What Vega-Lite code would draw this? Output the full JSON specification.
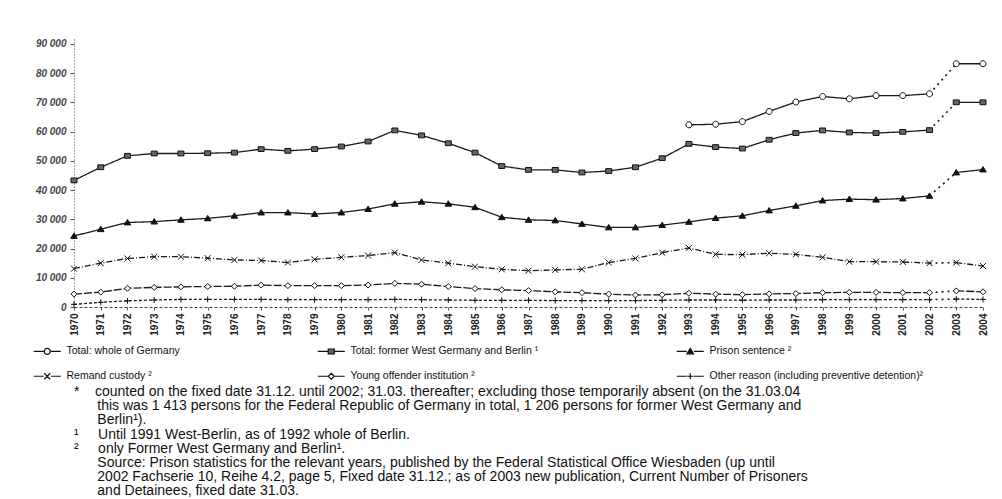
{
  "$schema": "https://vega.github.io/schema/vega-lite/v6.json",
  "autosize": {"type": "none"},
  "padding": {"left": 74, "top": 38, "right": 19, "bottom": 192},
  "width": 909,
  "height": 269,
  "background": "white",
  "config": {"view": {"stroke": null}, "font": "Liberation Sans"},
  "title": {
    "text": [
      "*\u00a0\u00a0\u00a0\u00a0counted on the fixed date 31.12. until 2002; 31.03. thereafter; excluding those temporarily absent (on the 31.03.04",
      "\u200b\u00a0\u00a0\u00a0\u00a0\u00a0\u00a0this was 1 413 persons for the Federal Republic of Germany in total, 1 206 persons for former West Germany and",
      "\u200b\u00a0\u00a0\u00a0\u00a0\u00a0\u00a0Berlin¹).",
      "¹\u00a0\u00a0\u00a0\u00a0\u00a0Until 1991 West-Berlin, as of 1992 whole of Berlin.",
      "²\u00a0\u00a0\u00a0\u00a0\u00a0only Former West Germany and Berlin¹.",
      "\u200b\u00a0\u00a0\u00a0\u00a0\u00a0\u00a0Source: Prison statistics for the relevant years, published by the Federal Statistical Office Wiesbaden (up until",
      "\u200b\u00a0\u00a0\u00a0\u00a0\u00a0\u00a02002 Fachserie 10, Reihe 4.2, page 5, Fixed date 31.12.; as of 2003 new publication, Current Number of Prisoners",
      "\u200b\u00a0\u00a0\u00a0\u00a0\u00a0\u00a0and Detainees, fixed date 31.03."
    ],
    "orient": "bottom",
    "anchor": "start",
    "frame": "group",
    "font": "Liberation Sans",
    "fontSize": 14,
    "fontWeight": "normal",
    "lineHeight": 14.2,
    "color": "#111",
    "offset": 3
  },
  "data": {
    "values": [
      {"series": "Total: whole of Germany", "year": 1993, "value": 62300, "date": "31.12"},
      {"series": "Total: whole of Germany", "year": 1994, "value": 62500, "date": "31.12"},
      {"series": "Total: whole of Germany", "year": 1995, "value": 63400, "date": "31.12"},
      {"series": "Total: whole of Germany", "year": 1996, "value": 66900, "date": "31.12"},
      {"series": "Total: whole of Germany", "year": 1997, "value": 70100, "date": "31.12"},
      {"series": "Total: whole of Germany", "year": 1998, "value": 72000, "date": "31.12"},
      {"series": "Total: whole of Germany", "year": 1999, "value": 71200, "date": "31.12"},
      {"series": "Total: whole of Germany", "year": 2000, "value": 72300, "date": "31.12"},
      {"series": "Total: whole of Germany", "year": 2001, "value": 72300, "date": "31.12"},
      {"series": "Total: whole of Germany", "year": 2002, "value": 72900, "date": "31.12"},
      {"series": "Total: whole of Germany", "year": 2003, "value": 83200, "date": "31.03"},
      {"series": "Total: whole of Germany", "year": 2004, "value": 83200, "date": "31.03"},

      {"series": "Total: former West Germany and Berlin ¹", "year": 1970, "value": 43300, "date": "31.12"},
      {"series": "Total: former West Germany and Berlin ¹", "year": 1971, "value": 47800, "date": "31.12"},
      {"series": "Total: former West Germany and Berlin ¹", "year": 1972, "value": 51700, "date": "31.12"},
      {"series": "Total: former West Germany and Berlin ¹", "year": 1973, "value": 52500, "date": "31.12"},
      {"series": "Total: former West Germany and Berlin ¹", "year": 1974, "value": 52500, "date": "31.12"},
      {"series": "Total: former West Germany and Berlin ¹", "year": 1975, "value": 52600, "date": "31.12"},
      {"series": "Total: former West Germany and Berlin ¹", "year": 1976, "value": 52800, "date": "31.12"},
      {"series": "Total: former West Germany and Berlin ¹", "year": 1977, "value": 54000, "date": "31.12"},
      {"series": "Total: former West Germany and Berlin ¹", "year": 1978, "value": 53400, "date": "31.12"},
      {"series": "Total: former West Germany and Berlin ¹", "year": 1979, "value": 54000, "date": "31.12"},
      {"series": "Total: former West Germany and Berlin ¹", "year": 1980, "value": 54900, "date": "31.12"},
      {"series": "Total: former West Germany and Berlin ¹", "year": 1981, "value": 56600, "date": "31.12"},
      {"series": "Total: former West Germany and Berlin ¹", "year": 1982, "value": 60400, "date": "31.12"},
      {"series": "Total: former West Germany and Berlin ¹", "year": 1983, "value": 58700, "date": "31.12"},
      {"series": "Total: former West Germany and Berlin ¹", "year": 1984, "value": 56000, "date": "31.12"},
      {"series": "Total: former West Germany and Berlin ¹", "year": 1985, "value": 52800, "date": "31.12"},
      {"series": "Total: former West Germany and Berlin ¹", "year": 1986, "value": 48200, "date": "31.12"},
      {"series": "Total: former West Germany and Berlin ¹", "year": 1987, "value": 46900, "date": "31.12"},
      {"series": "Total: former West Germany and Berlin ¹", "year": 1988, "value": 46900, "date": "31.12"},
      {"series": "Total: former West Germany and Berlin ¹", "year": 1989, "value": 46000, "date": "31.12"},
      {"series": "Total: former West Germany and Berlin ¹", "year": 1990, "value": 46500, "date": "31.12"},
      {"series": "Total: former West Germany and Berlin ¹", "year": 1991, "value": 47800, "date": "31.12"},
      {"series": "Total: former West Germany and Berlin ¹", "year": 1992, "value": 50900, "date": "31.12"},
      {"series": "Total: former West Germany and Berlin ¹", "year": 1993, "value": 55800, "date": "31.12"},
      {"series": "Total: former West Germany and Berlin ¹", "year": 1994, "value": 54700, "date": "31.12"},
      {"series": "Total: former West Germany and Berlin ¹", "year": 1995, "value": 54200, "date": "31.12"},
      {"series": "Total: former West Germany and Berlin ¹", "year": 1996, "value": 57200, "date": "31.12"},
      {"series": "Total: former West Germany and Berlin ¹", "year": 1997, "value": 59500, "date": "31.12"},
      {"series": "Total: former West Germany and Berlin ¹", "year": 1998, "value": 60400, "date": "31.12"},
      {"series": "Total: former West Germany and Berlin ¹", "year": 1999, "value": 59700, "date": "31.12"},
      {"series": "Total: former West Germany and Berlin ¹", "year": 2000, "value": 59500, "date": "31.12"},
      {"series": "Total: former West Germany and Berlin ¹", "year": 2001, "value": 59900, "date": "31.12"},
      {"series": "Total: former West Germany and Berlin ¹", "year": 2002, "value": 60500, "date": "31.12"},
      {"series": "Total: former West Germany and Berlin ¹", "year": 2003, "value": 70000, "date": "31.03"},
      {"series": "Total: former West Germany and Berlin ¹", "year": 2004, "value": 70000, "date": "31.03"},

      {"series": "Prison sentence ²", "year": 1970, "value": 24300, "date": "31.12"},
      {"series": "Prison sentence ²", "year": 1971, "value": 26600, "date": "31.12"},
      {"series": "Prison sentence ²", "year": 1972, "value": 28900, "date": "31.12"},
      {"series": "Prison sentence ²", "year": 1973, "value": 29200, "date": "31.12"},
      {"series": "Prison sentence ²", "year": 1974, "value": 29800, "date": "31.12"},
      {"series": "Prison sentence ²", "year": 1975, "value": 30300, "date": "31.12"},
      {"series": "Prison sentence ²", "year": 1976, "value": 31200, "date": "31.12"},
      {"series": "Prison sentence ²", "year": 1977, "value": 32300, "date": "31.12"},
      {"series": "Prison sentence ²", "year": 1978, "value": 32300, "date": "31.12"},
      {"series": "Prison sentence ²", "year": 1979, "value": 31800, "date": "31.12"},
      {"series": "Prison sentence ²", "year": 1980, "value": 32300, "date": "31.12"},
      {"series": "Prison sentence ²", "year": 1981, "value": 33500, "date": "31.12"},
      {"series": "Prison sentence ²", "year": 1982, "value": 35300, "date": "31.12"},
      {"series": "Prison sentence ²", "year": 1983, "value": 36000, "date": "31.12"},
      {"series": "Prison sentence ²", "year": 1984, "value": 35300, "date": "31.12"},
      {"series": "Prison sentence ²", "year": 1985, "value": 34100, "date": "31.12"},
      {"series": "Prison sentence ²", "year": 1986, "value": 30700, "date": "31.12"},
      {"series": "Prison sentence ²", "year": 1987, "value": 29800, "date": "31.12"},
      {"series": "Prison sentence ²", "year": 1988, "value": 29600, "date": "31.12"},
      {"series": "Prison sentence ²", "year": 1989, "value": 28400, "date": "31.12"},
      {"series": "Prison sentence ²", "year": 1990, "value": 27200, "date": "31.12"},
      {"series": "Prison sentence ²", "year": 1991, "value": 27200, "date": "31.12"},
      {"series": "Prison sentence ²", "year": 1992, "value": 28000, "date": "31.12"},
      {"series": "Prison sentence ²", "year": 1993, "value": 29100, "date": "31.12"},
      {"series": "Prison sentence ²", "year": 1994, "value": 30400, "date": "31.12"},
      {"series": "Prison sentence ²", "year": 1995, "value": 31200, "date": "31.12"},
      {"series": "Prison sentence ²", "year": 1996, "value": 33000, "date": "31.12"},
      {"series": "Prison sentence ²", "year": 1997, "value": 34600, "date": "31.12"},
      {"series": "Prison sentence ²", "year": 1998, "value": 36400, "date": "31.12"},
      {"series": "Prison sentence ²", "year": 1999, "value": 36900, "date": "31.12"},
      {"series": "Prison sentence ²", "year": 2000, "value": 36700, "date": "31.12"},
      {"series": "Prison sentence ²", "year": 2001, "value": 37100, "date": "31.12"},
      {"series": "Prison sentence ²", "year": 2002, "value": 38000, "date": "31.12"},
      {"series": "Prison sentence ²", "year": 2003, "value": 46000, "date": "31.03"},
      {"series": "Prison sentence ²", "year": 2004, "value": 47000, "date": "31.03"},

      {"series": "Remand custody ²", "year": 1970, "value": 13100, "date": "31.12"},
      {"series": "Remand custody ²", "year": 1971, "value": 15000, "date": "31.12"},
      {"series": "Remand custody ²", "year": 1972, "value": 16600, "date": "31.12"},
      {"series": "Remand custody ²", "year": 1973, "value": 17200, "date": "31.12"},
      {"series": "Remand custody ²", "year": 1974, "value": 17200, "date": "31.12"},
      {"series": "Remand custody ²", "year": 1975, "value": 16700, "date": "31.12"},
      {"series": "Remand custody ²", "year": 1976, "value": 16100, "date": "31.12"},
      {"series": "Remand custody ²", "year": 1977, "value": 15900, "date": "31.12"},
      {"series": "Remand custody ²", "year": 1978, "value": 15200, "date": "31.12"},
      {"series": "Remand custody ²", "year": 1979, "value": 16300, "date": "31.12"},
      {"series": "Remand custody ²", "year": 1980, "value": 17000, "date": "31.12"},
      {"series": "Remand custody ²", "year": 1981, "value": 17600, "date": "31.12"},
      {"series": "Remand custody ²", "year": 1982, "value": 18600, "date": "31.12"},
      {"series": "Remand custody ²", "year": 1983, "value": 16100, "date": "31.12"},
      {"series": "Remand custody ²", "year": 1984, "value": 15000, "date": "31.12"},
      {"series": "Remand custody ²", "year": 1985, "value": 13800, "date": "31.12"},
      {"series": "Remand custody ²", "year": 1986, "value": 12900, "date": "31.12"},
      {"series": "Remand custody ²", "year": 1987, "value": 12400, "date": "31.12"},
      {"series": "Remand custody ²", "year": 1988, "value": 12700, "date": "31.12"},
      {"series": "Remand custody ²", "year": 1989, "value": 12900, "date": "31.12"},
      {"series": "Remand custody ²", "year": 1990, "value": 15200, "date": "31.12"},
      {"series": "Remand custody ²", "year": 1991, "value": 16600, "date": "31.12"},
      {"series": "Remand custody ²", "year": 1992, "value": 18600, "date": "31.12"},
      {"series": "Remand custody ²", "year": 1993, "value": 20200, "date": "31.12"},
      {"series": "Remand custody ²", "year": 1994, "value": 18000, "date": "31.12"},
      {"series": "Remand custody ²", "year": 1995, "value": 17900, "date": "31.12"},
      {"series": "Remand custody ²", "year": 1996, "value": 18400, "date": "31.12"},
      {"series": "Remand custody ²", "year": 1997, "value": 18000, "date": "31.12"},
      {"series": "Remand custody ²", "year": 1998, "value": 17000, "date": "31.12"},
      {"series": "Remand custody ²", "year": 1999, "value": 15500, "date": "31.12"},
      {"series": "Remand custody ²", "year": 2000, "value": 15500, "date": "31.12"},
      {"series": "Remand custody ²", "year": 2001, "value": 15400, "date": "31.12"},
      {"series": "Remand custody ²", "year": 2002, "value": 15000, "date": "31.12"},
      {"series": "Remand custody ²", "year": 2003, "value": 15200, "date": "31.03"},
      {"series": "Remand custody ²", "year": 2004, "value": 14000, "date": "31.03"},

      {"series": "Young offender institution ²", "year": 1970, "value": 4400, "date": "31.12"},
      {"series": "Young offender institution ²", "year": 1971, "value": 5100, "date": "31.12"},
      {"series": "Young offender institution ²", "year": 1972, "value": 6400, "date": "31.12"},
      {"series": "Young offender institution ²", "year": 1973, "value": 6700, "date": "31.12"},
      {"series": "Young offender institution ²", "year": 1974, "value": 6900, "date": "31.12"},
      {"series": "Young offender institution ²", "year": 1975, "value": 7000, "date": "31.12"},
      {"series": "Young offender institution ²", "year": 1976, "value": 7100, "date": "31.12"},
      {"series": "Young offender institution ²", "year": 1977, "value": 7500, "date": "31.12"},
      {"series": "Young offender institution ²", "year": 1978, "value": 7300, "date": "31.12"},
      {"series": "Young offender institution ²", "year": 1979, "value": 7300, "date": "31.12"},
      {"series": "Young offender institution ²", "year": 1980, "value": 7300, "date": "31.12"},
      {"series": "Young offender institution ²", "year": 1981, "value": 7500, "date": "31.12"},
      {"series": "Young offender institution ²", "year": 1982, "value": 8100, "date": "31.12"},
      {"series": "Young offender institution ²", "year": 1983, "value": 7800, "date": "31.12"},
      {"series": "Young offender institution ²", "year": 1984, "value": 7000, "date": "31.12"},
      {"series": "Young offender institution ²", "year": 1985, "value": 6300, "date": "31.12"},
      {"series": "Young offender institution ²", "year": 1986, "value": 5900, "date": "31.12"},
      {"series": "Young offender institution ²", "year": 1987, "value": 5600, "date": "31.12"},
      {"series": "Young offender institution ²", "year": 1988, "value": 5200, "date": "31.12"},
      {"series": "Young offender institution ²", "year": 1989, "value": 4900, "date": "31.12"},
      {"series": "Young offender institution ²", "year": 1990, "value": 4400, "date": "31.12"},
      {"series": "Young offender institution ²", "year": 1991, "value": 4100, "date": "31.12"},
      {"series": "Young offender institution ²", "year": 1992, "value": 4200, "date": "31.12"},
      {"series": "Young offender institution ²", "year": 1993, "value": 4700, "date": "31.12"},
      {"series": "Young offender institution ²", "year": 1994, "value": 4400, "date": "31.12"},
      {"series": "Young offender institution ²", "year": 1995, "value": 4200, "date": "31.12"},
      {"series": "Young offender institution ²", "year": 1996, "value": 4500, "date": "31.12"},
      {"series": "Young offender institution ²", "year": 1997, "value": 4600, "date": "31.12"},
      {"series": "Young offender institution ²", "year": 1998, "value": 4900, "date": "31.12"},
      {"series": "Young offender institution ²", "year": 1999, "value": 5000, "date": "31.12"},
      {"series": "Young offender institution ²", "year": 2000, "value": 5000, "date": "31.12"},
      {"series": "Young offender institution ²", "year": 2001, "value": 4900, "date": "31.12"},
      {"series": "Young offender institution ²", "year": 2002, "value": 4900, "date": "31.12"},
      {"series": "Young offender institution ²", "year": 2003, "value": 5500, "date": "31.03"},
      {"series": "Young offender institution ²", "year": 2004, "value": 5200, "date": "31.03"},

      {"series": "Other reason (including preventive detention)²", "year": 1970, "value": 900, "date": "31.12"},
      {"series": "Other reason (including preventive detention)²", "year": 1971, "value": 1600, "date": "31.12"},
      {"series": "Other reason (including preventive detention)²", "year": 1972, "value": 2100, "date": "31.12"},
      {"series": "Other reason (including preventive detention)²", "year": 1973, "value": 2400, "date": "31.12"},
      {"series": "Other reason (including preventive detention)²", "year": 1974, "value": 2600, "date": "31.12"},
      {"series": "Other reason (including preventive detention)²", "year": 1975, "value": 2600, "date": "31.12"},
      {"series": "Other reason (including preventive detention)²", "year": 1976, "value": 2600, "date": "31.12"},
      {"series": "Other reason (including preventive detention)²", "year": 1977, "value": 2600, "date": "31.12"},
      {"series": "Other reason (including preventive detention)²", "year": 1978, "value": 2500, "date": "31.12"},
      {"series": "Other reason (including preventive detention)²", "year": 1979, "value": 2500, "date": "31.12"},
      {"series": "Other reason (including preventive detention)²", "year": 1980, "value": 2500, "date": "31.12"},
      {"series": "Other reason (including preventive detention)²", "year": 1981, "value": 2500, "date": "31.12"},
      {"series": "Other reason (including preventive detention)²", "year": 1982, "value": 2600, "date": "31.12"},
      {"series": "Other reason (including preventive detention)²", "year": 1983, "value": 2500, "date": "31.12"},
      {"series": "Other reason (including preventive detention)²", "year": 1984, "value": 2400, "date": "31.12"},
      {"series": "Other reason (including preventive detention)²", "year": 1985, "value": 2300, "date": "31.12"},
      {"series": "Other reason (including preventive detention)²", "year": 1986, "value": 2300, "date": "31.12"},
      {"series": "Other reason (including preventive detention)²", "year": 1987, "value": 2300, "date": "31.12"},
      {"series": "Other reason (including preventive detention)²", "year": 1988, "value": 2200, "date": "31.12"},
      {"series": "Other reason (including preventive detention)²", "year": 1989, "value": 2200, "date": "31.12"},
      {"series": "Other reason (including preventive detention)²", "year": 1990, "value": 2200, "date": "31.12"},
      {"series": "Other reason (including preventive detention)²", "year": 1991, "value": 2200, "date": "31.12"},
      {"series": "Other reason (including preventive detention)²", "year": 1992, "value": 2300, "date": "31.12"},
      {"series": "Other reason (including preventive detention)²", "year": 1993, "value": 2400, "date": "31.12"},
      {"series": "Other reason (including preventive detention)²", "year": 1994, "value": 2400, "date": "31.12"},
      {"series": "Other reason (including preventive detention)²", "year": 1995, "value": 2300, "date": "31.12"},
      {"series": "Other reason (including preventive detention)²", "year": 1996, "value": 2400, "date": "31.12"},
      {"series": "Other reason (including preventive detention)²", "year": 1997, "value": 2400, "date": "31.12"},
      {"series": "Other reason (including preventive detention)²", "year": 1998, "value": 2500, "date": "31.12"},
      {"series": "Other reason (including preventive detention)²", "year": 1999, "value": 2500, "date": "31.12"},
      {"series": "Other reason (including preventive detention)²", "year": 2000, "value": 2500, "date": "31.12"},
      {"series": "Other reason (including preventive detention)²", "year": 2001, "value": 2500, "date": "31.12"},
      {"series": "Other reason (including preventive detention)²", "year": 2002, "value": 2500, "date": "31.12"},
      {"series": "Other reason (including preventive detention)²", "year": 2003, "value": 2700, "date": "31.03"},
      {"series": "Other reason (including preventive detention)²", "year": 2004, "value": 2600, "date": "31.03"}
    ]
  },
  "encoding": {
    "x": {
      "field": "year",
      "type": "ordinal",
      "scale": {"type": "point", "padding": 0},
      "axis": {
        "title": null,
        "labelAngle": -90,
        "labelFont": "Liberation Sans",
        "labelFontSize": 10,
        "labelFontWeight": "bold",
        "labelColor": "#222",
        "labelPadding": 3,
        "tickSize": 3,
        "tickColor": "#555",
        "domainColor": "#444",
        "domainDash": [3, 2],
        "grid": false
      }
    },
    "y": {
      "field": "value",
      "type": "quantitative",
      "scale": {"domain": [0, 92000], "nice": false},
      "axis": {
        "title": null,
        "values": [0, 10000, 20000, 30000, 40000, 50000, 60000, 70000, 80000, 90000],
        "labelExpr": "replace(format(datum.value, ',d'), ',', ' ')",
        "labelFont": "Liberation Sans",
        "labelFontSize": 10,
        "labelFontStyle": "italic",
        "labelFontWeight": "bold",
        "labelColor": "#444",
        "labelPadding": 4,
        "tickSize": 4,
        "tickColor": "#555",
        "domainColor": "#444",
        "domainDash": [1, 2],
        "grid": false
      }
    }
  },
  "layer": [
    {
      "mark": {"type": "line", "stroke": "#1a1a1a", "strokeWidth": 1.3},
      "encoding": {
        "detail": {"field": "date"},
        "strokeDash": {
          "field": "series",
          "legend": null,
          "scale": {
            "domain": ["Other reason (including preventive detention)²", "Young offender institution ²", "Remand custody ²", "Prison sentence ²", "Total: former West Germany and Berlin ¹", "Total: whole of Germany"],
            "range": [[3, 2], [8, 2], [6, 2, 1, 2], [1, 0], [1, 0], [1, 0]]
          }
        }
      }
    },
    {
      "transform": [{"filter": "datum.year == 2002 || datum.year == 2003"}],
      "mark": {"type": "line", "stroke": "#1a1a1a", "strokeWidth": 1.6, "strokeDash": [2, 4]},
      "encoding": {"detail": {"field": "series"}}
    },
    {
      "mark": {"type": "point", "filled": true, "opacity": 1, "size": 36, "stroke": "#111", "strokeWidth": 1},
      "encoding": {
        "shape": {
          "field": "series",
          "legend": null,
          "scale": {
            "domain": ["Prison sentence ²", "Remand custody ²", "Young offender institution ²", "Other reason (including preventive detention)²", "Total: whole of Germany", "Total: former West Germany and Berlin ¹"],
            "range": [
              "M0,-1L1.1,0.8L-1.1,0.8Z",
              "M-1,-1L1,1M-1,1L1,-1",
              "M0,-1L1,0L0,1L-1,0Z",
              "M-1,0H1M0,-1V1",
              "M1,0A1,1 0 1,1 -1,0A1,1 0 1,1 1,0Z",
              "M-1,-0.8H1V0.8H-1Z"
            ]
          }
        },
        "fill": {
          "field": "series",
          "scale": {
            "domain": ["Total: whole of Germany", "Total: former West Germany and Berlin ¹", "Prison sentence ²", "Remand custody ²", "Young offender institution ²", "Other reason (including preventive detention)²"],
            "range": ["#ffffff", "#666666", "#111111", "#ffffff", "#ffffff", "#ffffff"]
          },
          "legend": {
            "title": null,
            "orient": "none",
            "direction": "horizontal",
            "legendX": -32,
            "legendY": 308,
            "columns": 3,
            "columnPadding": 135,
            "rowPadding": 13,
            "symbolSize": 36,
            "labelFont": "Liberation Sans",
            "labelFontSize": 10.5,
            "labelColor": "#111",
            "labelOffset": 14,
            "labelLimit": 400,
            "encoding": {
              "symbols": {
                "shape": {"value": {"expr": "scale('shape', datum.value) + ' M-4.5,0H-1.2M1.2,0H4.5'"}},
                "stroke": {"value": "#111"},
                "strokeWidth": {"value": 1.2},
                "opacity": {"value": 1}
              }
            }
          }
        }
      }
    }
  ]
}
